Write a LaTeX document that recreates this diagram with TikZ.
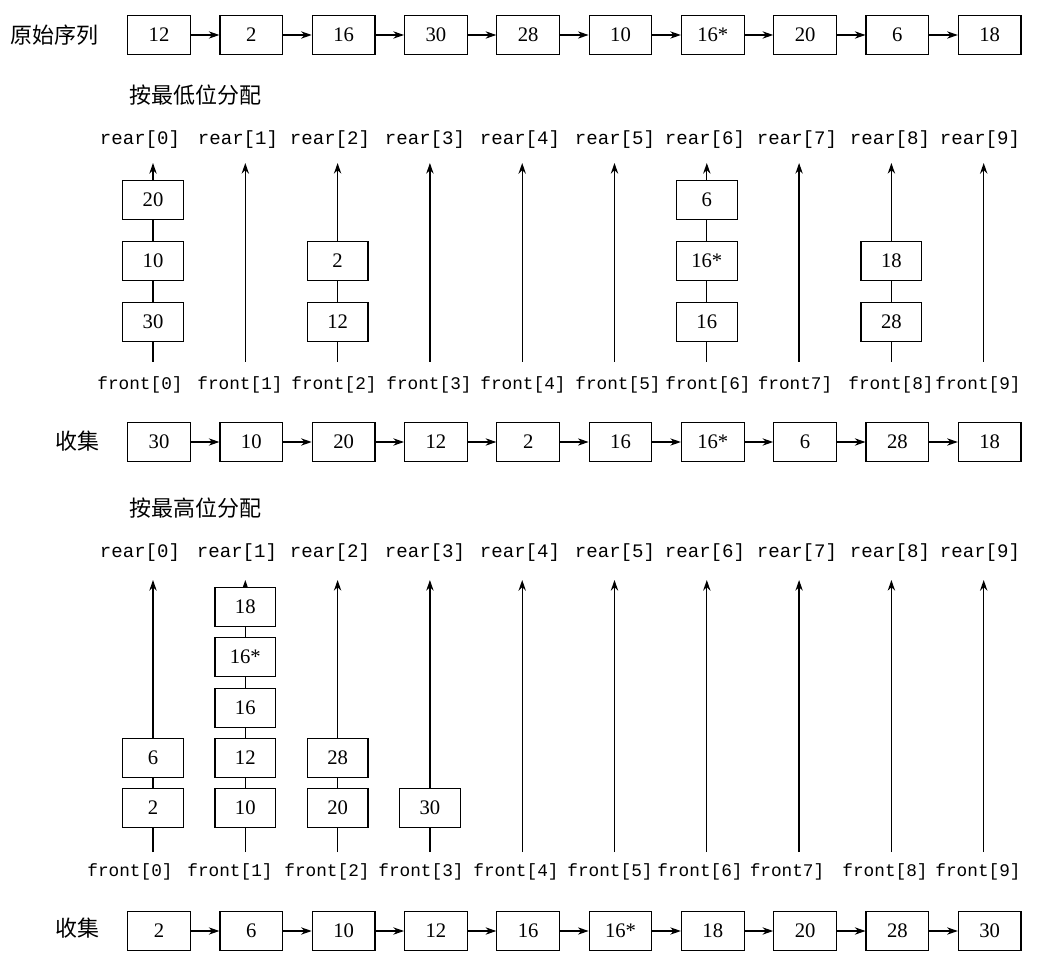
\documentclass[tikz,border=0pt]{standalone}
\usepackage{fontspec}
\setmainfont{Liberation Serif}
\newfontfamily\monofont{Liberation Mono}
\newfontfamily\cjk{Noto Sans CJK SC}
\usetikzlibrary{arrows.meta}
\begin{document}
\begin{tikzpicture}[x=0.75pt,y=-0.75pt,
  hbox/.style={draw,line width=0.9pt,minimum width=47pt,minimum height=29.5pt,inner sep=0pt,fill=white,font=\fontsize{15.5}{16}\selectfont},
  vbox/.style={draw,line width=0.9pt,minimum width=45.5pt,minimum height=29pt,inner sep=0pt,fill=white,font=\fontsize{15.5}{16}\selectfont},
  harr/.style={line width=0.8pt,-{Stealth[length=8pt,width=5.5pt]}},
  varr/.style={line width=1pt,-{Stealth[length=8pt,width=5.5pt]}},
  rlab/.style={font=\monofont\fontsize{14.3}{15}\selectfont,inner sep=0pt},
  flab/.style={font=\monofont\fontsize{13.3}{15}\selectfont,inner sep=0pt},
  zh/.style={font=\cjk\fontsize{16.5}{18}\selectfont,inner sep=0pt}]
\useasboundingbox (0,0) rectangle (1046,962);

% titles
\node[zh] (title0) at (54,35) {原始序列};
\node[zh] (title1) at (195,95) {按最低位分配};
\node[zh] (title2) at (77,441) {收集};
\node[zh] (title3) at (195,508) {按最高位分配};
\node[zh] (title4) at (77,928) {收集};

% original sequence
\foreach \v [count=\i from 0] in {12,2,16,30,28,10,16*,20,6,18}
  \node[hbox] (t\i) at ({159+92.3*\i},35) {\v};
\foreach \i [evaluate=\i as \j using int(\i+1)] in {0,...,8}
  \draw[harr] (t\i) -- (t\j);

% first distribution: columns
\foreach \i in {0,...,9} {
  \coordinate (b1\i) at ({153+92.3*\i},362);
  \coordinate (r1\i) at ({153+92.3*\i},163);
  \draw[varr] (b1\i) -- (r1\i);
}
\foreach \x/\n [count=\i from 0] in {140/0,238/1,330/2,425/3,520/4,615/5,705/6,797/7,890/8,980/9}
  \node[rlab] (rl1\i) at (\x,140) {rear[\n]};
\foreach \x/\t [count=\i from 0] in {140/front[0],240/front[1],334/front[2],429/front[3],523/front[4],618/front[5],708/front[6],795/front7],891/front[8],978/front[9]}
  \node[flab] (fl1\i) at (\x,385) {\t};

\node[vbox] (a00) at (b10|-0,200) {20};
\node[vbox] (a01) at (b10|-0,261) {10};
\node[vbox] (a02) at (b10|-0,322) {30};
\node[vbox] (a21) at (b12|-0,261) {2};
\node[vbox] (a22) at (b12|-0,322) {12};
\node[vbox] (a60) at (b16|-0,200) {6};
\node[vbox] (a61) at (b16|-0,261) {16*};
\node[vbox] (a62) at (b16|-0,322) {16};
\node[vbox] (a81) at (b18|-0,261) {18};
\node[vbox] (a82) at (b18|-0,322) {28};

% first collection
\foreach \v [count=\i from 0] in {30,10,20,12,2,16,16*,6,28,18}
  \node[hbox] (c\i) at ({159+92.3*\i},442) {\v};
\foreach \i [evaluate=\i as \j using int(\i+1)] in {0,...,8}
  \draw[harr] (c\i) -- (c\j);

% second distribution: columns
\foreach \i in {0,...,9} {
  \coordinate (b2\i) at ({153+92.3*\i},852);
  \coordinate (r2\i) at ({153+92.3*\i},580);
  \draw[varr] (b2\i) -- (r2\i);
}
\foreach \x/\n [count=\i from 0] in {140/0,237/1,330/2,425/3,520/4,615/5,705/6,797/7,890/8,980/9}
  \node[rlab] (rl2\i) at (\x,553) {rear[\n]};
\foreach \x/\t [count=\i from 0] in {130/front[0],230/front[1],327/front[2],421/front[3],516/front[4],610/front[5],700/front[6],787/front7],885/front[8],978/front[9]}
  \node[flab] (fl2\i) at (\x,872) {\t};

\node[vbox] (d03) at (b20|-0,758) {6};
\node[vbox] (d04) at (b20|-0,808) {2};
\node[vbox] (d10) at (b21|-0,607) {18};
\node[vbox] (d11) at (b21|-0,657) {16*};
\node[vbox] (d12) at (b21|-0,708) {16};
\node[vbox] (d13) at (b21|-0,758) {12};
\node[vbox] (d14) at (b21|-0,808) {10};
\node[vbox] (d23) at (b22|-0,758) {28};
\node[vbox] (d24) at (b22|-0,808) {20};
\node[vbox] (d34) at (b23|-0,808) {30};

% second collection
\foreach \v [count=\i from 0] in {2,6,10,12,16,16*,18,20,28,30}
  \node[hbox] (e\i) at ({159+92.3*\i},931) {\v};
\foreach \i [evaluate=\i as \j using int(\i+1)] in {0,...,8}
  \draw[harr] (e\i) -- (e\j);
\end{tikzpicture}
\end{document}
